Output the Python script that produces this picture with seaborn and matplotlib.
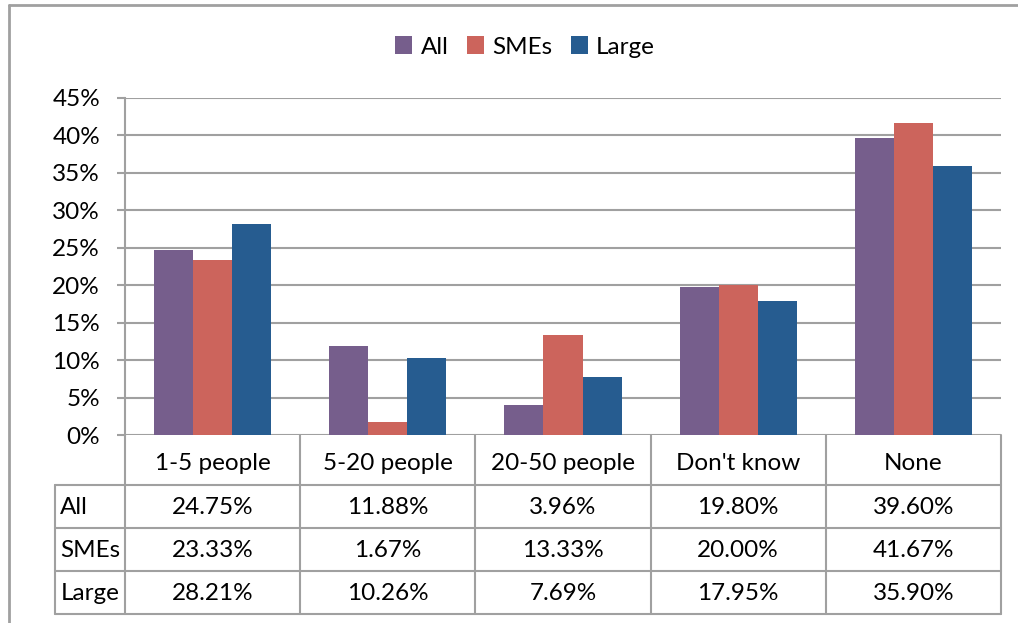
import pandas as pd
import seaborn as sns
import matplotlib.pyplot as plt
from matplotlib.lines import Line2D

categories = ["1-5 people", "5-20 people", "20-50 people", "Don't know", "None"]
groups = ["All", "SMEs", "Large"]
all_vals = [24.75, 11.88, 3.96, 19.80, 39.60]
sme_vals = [23.33, 1.67, 13.33, 20.00, 41.67]
large_vals = [28.21, 10.26, 7.69, 17.95, 35.90]
colors = ["#765E8C", "#CC645C", "#265C90"]
yticks = [0, 5, 10, 15, 20, 25, 30, 35, 40, 45]

W, H = 1018, 623
GRID = "#A0A0A0"
FS = 17.5
TXT = "#000000"

df = pd.DataFrame({
    "Category": categories * 3,
    "Group": [g for g in groups for _ in categories],
    "Value": all_vals + sme_vals + large_vals,
})

sns.set_theme(style="white")
plt.rcParams["font.family"] = ["Lato", "DejaVu Sans"]

def fx(px):
    return px / W

def fy(py):
    return 1 - py / H

fig = plt.figure(figsize=(W / 100, H / 100), dpi=100)

# plot area: x 125..1001 px, y 98..435 px
ax = fig.add_axes([fx(125), fy(435), fx(1001) - fx(125), fy(98) - fy(435)])
sns.barplot(data=df, x="Category", y="Value", hue="Group", palette=colors,
            width=0.67, saturation=1, ax=ax, zorder=3, linewidth=0)
ax.set_ylim(0, 45)
ax.set_xlim(-0.5, 4.5)
ax.set_yticks(yticks)
ax.set_yticklabels([f"{t}%" for t in yticks], fontsize=FS, color=TXT)
ax.set_xticks([])
ax.set_xlabel("")
ax.set_ylabel("")
ax.yaxis.grid(True, color=GRID, linewidth=1.5)
ax.set_axisbelow(True)
for side in ["top", "right", "bottom"]:
    ax.spines[side].set_visible(False)
ax.spines["left"].set_color(GRID)
ax.spines["left"].set_linewidth(1.5)
ax.tick_params(axis="y", which="both", left=True, length=6, width=1.5,
               color=GRID, pad=12)

leg = ax.legend(loc="center", bbox_to_anchor=(fx(525), fy(47)),
                bbox_transform=fig.transFigure, ncol=3, frameon=False,
                fontsize=FS, handlelength=0.7, handleheight=0.7,
                handletextpad=0.35, columnspacing=0.75)
for t in leg.get_texts():
    t.set_color(TXT)

# data table under the chart: rows 435..614 px
tax = fig.add_axes([fx(125), fy(614), fx(1001) - fx(125), fy(435) - fy(614)])
tax.set_xlim(-0.5, 4.5)
tax.set_ylim(179, 0)
tax.axis("off")
left_x = -0.5 - 70 / 175.2
row_edges = [0, 50, 93, 136, 179]

def tline(xs, ys):
    tax.add_line(Line2D(xs, ys, color=GRID, linewidth=1.5, clip_on=False))

for b in [i - 0.5 for i in range(len(categories) + 1)]:
    tline([b, b], [0, 179])
tline([left_x, left_x], [50, 179])
for y in row_edges[1:]:
    tline([left_x, 4.5], [y, y])

for i, c in enumerate(categories):
    tax.text(i, 28, c, ha="center", va="center", fontsize=FS, color=TXT)

for r, (name, vals) in enumerate(zip(groups, [all_vals, sme_vals, large_vals])):
    yc = (row_edges[r + 1] + row_edges[r + 2]) / 2 + 1
    tax.text(left_x + 0.03, yc, name, ha="left", va="center", fontsize=FS,
             color=TXT)
    for i, v in enumerate(vals):
        tax.text(i, yc, f"{v:.2f}%", ha="center", va="center", fontsize=FS,
                 color=TXT)

# outer chart border (top and left visible)
fig.add_artist(Line2D([fx(9), 1], [fy(5), fy(5)], color=GRID, linewidth=2))
fig.add_artist(Line2D([fx(9), fx(9)], [fy(5), 0], color=GRID, linewidth=2))

fig.savefig("out.png", dpi=100)
